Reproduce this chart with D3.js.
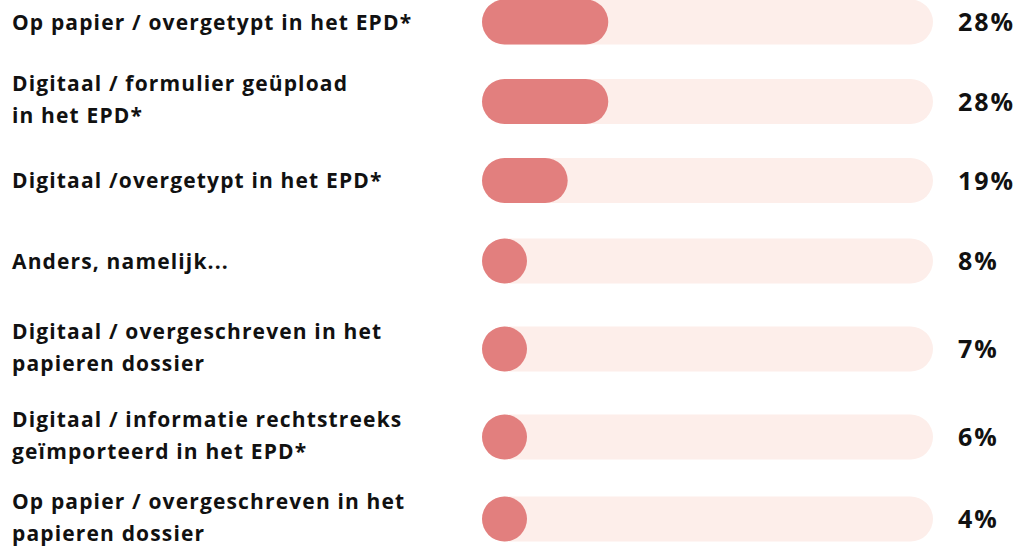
<!DOCTYPE html>
<head>
    <meta charset="utf-8">
    <title>Registratie in het EPD</title>
    <style>
        body { margin: 0; background: #fff; }
        svg { display: block; }
    </style>
</head>

<body>

<svg width="1020" height="546"></svg>

<script src="https://d3js.org/d3.v7.min.js"></script>

<script>
    // data
    const categories = ["papier-epd", "digitaal-upload", "digitaal-epd", "anders",
        "digitaal-dossier", "digitaal-import", "papier-dossier"];
    const labels = [
        ["Op papier / overgetypt in het EPD*"],
        ["Digitaal / formulier geüpload", "in het EPD*"],
        ["Digitaal /overgetypt in het EPD*"],
        ["Anders, namelijk..."],
        ["Digitaal / overgeschreven in het", "papieren dossier"],
        ["Digitaal / informatie rechtstreeks", "geïmporteerd in het EPD*"],
        ["Op papier / overgeschreven in het", "papieren dossier"]
    ];
    const values = [28, 28, 19, 8, 7, 6, 4];

    // layout
    const rowCenters = [22, 101.5, 180.5, 261, 349, 437, 519];
    const barH = 45;
    const lineH = 32;

    const svg = d3.select("svg");

    const x = d3.scaleLinear().domain([0, 100]).range([482, 933]);
    const y = d3.scaleOrdinal().domain(categories).range(rowCenters);

    const rows = categories.map((c, i) => ({ key: c, lines: labels[i], value: values[i] }));

    const row = svg.selectAll(".row")
        .data(rows)
        .enter().append("g")
        .attr("class", "row")
        .attr("transform", d => `translate(0, ${y(d.key)})`);

    // background track
    row.append("rect")
        .attr("x", x(0))
        .attr("y", -barH / 2)
        .attr("width", x(100) - x(0))
        .attr("height", barH)
        .attr("rx", barH / 2)
        .attr("fill", "#fdeeea");

    // value bar (never narrower than a circle)
    row.append("rect")
        .attr("x", x(0))
        .attr("y", -barH / 2)
        .attr("width", d => Math.max(barH, x(d.value) - x(0)))
        .attr("height", barH)
        .attr("rx", barH / 2)
        .attr("fill", "#e27f7e");

    // labels
    row.append("text")
        .attr("x", 12)
        .style("font", "700 21px 'Open Sans', sans-serif")
        .style("letter-spacing", "1.15px")
        .style("font-variant-ligatures", "none")
        .attr("fill", "#111")
        .selectAll("tspan")
        .data(d => d.lines.map((t, i) => ({ t, i, n: d.lines.length })))
        .enter().append("tspan")
        .attr("x", 12)
        .attr("y", d => (d.i - (d.n - 1) / 2) * lineH - (d.n > 1 ? 2 : 0))
        .attr("dy", "0.36em")
        .text(d => d.t);

    // percentages
    row.append("text")
        .attr("x", 958)
        .attr("dy", "0.36em")
        .style("font", "700 25px 'Open Sans', sans-serif")
        .style("letter-spacing", "2px")
        .attr("fill", "#111")
        .text(d => d.value + "%");
</script>

</body>
